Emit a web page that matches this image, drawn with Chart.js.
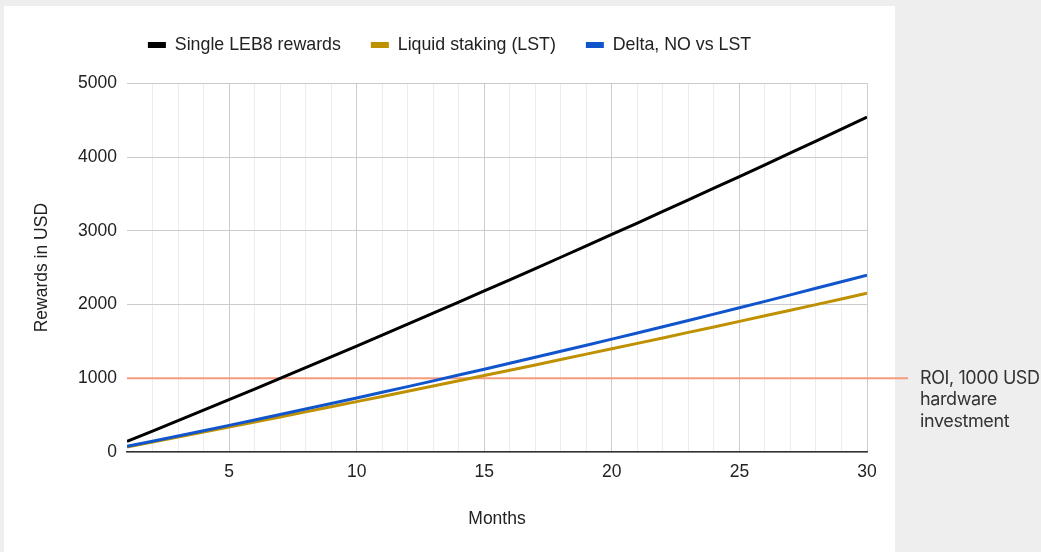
<!DOCTYPE html>
<html>
<head>
<meta charset="utf-8">
<script src="https://cdn.jsdelivr.net/npm/chart.js@4.4.1/dist/chart.umd.min.js"></script>
<style>
  html, body { margin: 0; padding: 0; background: #eeeeee; }
  #c { display: block; }
</style>
</head>
<body>
<canvas id="c" width="1041" height="552"></canvas>
<script>
// ---- data ----
const months = [1,2,3,4,5,6,7,8,9,10,11,12,13,14,15,16,17,18,19,20,21,22,23,24,25,26,27,28,29,30];
const leb8Rewards = [143,284,425,567,710,854,1000,1144,1290,1437,1585,1734,1883,2033,2184,2335,2488,2641,2795,2950,3105,3262,3419,3577,3735,3895,4055,4216,4378,4541];
const lstRewards  = [68,135,202,270,338,406,475,544,613,683,753,824,894,965,1037,1109,1181,1254,1327,1400,1473,1547,1622,1696,1771,1847,1923,1999,2075,2152];
const deltaNoVsLst = [76,146,217,289,361,434,508,582,657,733,810,887,965,1044,1123,1203,1284,1366,1448,1531,1614,1699,1784,1870,1956,2043,2131,2220,2309,2399];
const roiValue = 1000;
const roiLabel = ['ROI, 1000 USD', 'hardware', 'investment'];
const seriesNames = ['Single LEB8 rewards', 'Liquid staking (LST)', 'Delta, NO vs LST'];
const xTitle = 'Months';
const yTitle = 'Rewards in USD';

const toPts = arr => arr.map((v, i) => ({x: months[i], y: v}));

const bgPlugin = {
  id: 'whiteBg',
  beforeDraw(chart) {
    const ctx = chart.ctx;
    ctx.save();
    ctx.fillStyle = '#ffffff';
    ctx.fillRect(4, 6, 891, 546);
    ctx.restore();
  }
};

const roiPlugin = {
  id: 'roiNote',
  afterDatasetsDraw(chart) {
    const ctx = chart.ctx;
    const y = chart.scales.y.getPixelForValue(roiValue);
    const a = chart.chartArea;
    ctx.save();
    ctx.strokeStyle = '#f69c7c';
    ctx.lineWidth = 2;
    ctx.beginPath();
    ctx.moveTo(a.right, y);
    ctx.lineTo(908, y);
    ctx.stroke();
    ctx.fillStyle = '#333333';
    ctx.font = '18px Inter';
    try { ctx.letterSpacing = '-0.4px'; } catch (e) {}
    ctx.textAlign = 'left';
    ctx.textBaseline = 'middle';
    roiLabel.forEach((t, i) => ctx.fillText(t, 920, y + i * 21.7));
    ctx.restore();
  }
};

const tickFont = { family: 'Liberation Sans', size: 17.5 };

new Chart(document.getElementById('c'), {
  type: 'line',
  data: {
    datasets: [
      { label: seriesNames[0], data: toPts(leb8Rewards), borderColor: '#000000', backgroundColor: '#000000', borderWidth: 3, pointRadius: 0, order: 3 },
      { label: seriesNames[1], data: toPts(lstRewards), borderColor: '#bf9000', backgroundColor: '#bf9000', borderWidth: 3, pointRadius: 0, order: 2 },
      { label: seriesNames[2], data: toPts(deltaNoVsLst), borderColor: '#1155cc', backgroundColor: '#1155cc', borderWidth: 3, pointRadius: 0, order: 1 },
      { label: 'ROI', data: months.map(m => ({x: m, y: roiValue})), borderColor: '#f69c7c', backgroundColor: '#f69c7c', borderWidth: 2, pointRadius: 0, order: 4 }
    ]
  },
  options: {
    responsive: false,
    animation: false,
    events: [],
    layout: { padding: { left: 4, top: 6, right: 146, bottom: 0 } },
    plugins: {
      tooltip: { enabled: false },
      legend: {
        position: 'top',
        labels: {
          boxWidth: 18,
          boxHeight: 6,
          padding: 30,
          color: '#222222',
          font: { family: 'Liberation Sans', size: 17.8 },
          filter: item => item.text !== 'ROI',
          sort: (a, b) => a.datasetIndex - b.datasetIndex,
          generateLabels: chart => Chart.defaults.plugins.legend.labels.generateLabels(chart).map(l => Object.assign(l, { lineWidth: 0 }))
        }
      },
      subtitle: {
        display: true,
        text: '',
        weight: 500,
        font: { size: 10, lineHeight: 1.2 },
        padding: { top: 0, bottom: 7.5 }
      }
    },
    scales: {
      x: {
        type: 'linear',
        min: 1,
        max: 30,
        afterFit: s => { s.height = 100; },
        ticks: {
          stepSize: 1,
          autoSkip: false,
          maxRotation: 0,
          padding: 10,
          color: '#222222',
          font: tickFont,
          callback: v => (v % 5 === 0 ? String(v) : '')
        },
        grid: {
          drawTicks: false,
          color: c => (c.tick.value === 1 ? 'rgba(0,0,0,0)' : (c.tick.value % 5 === 0 ? '#cccccc' : '#ececec')),
          lineWidth: 1
        },
        border: { display: true, color: '#333333', width: 1.5 },
        title: { display: true, text: xTitle, color: '#222222', font: tickFont, padding: { top: 0, bottom: 22.5 } }
      },
      y: {
        min: 0,
        max: 5000,
        afterFit: s => { s.width = 123; },
        ticks: { stepSize: 1000, padding: 10, color: '#222222', font: tickFont, callback: v => String(v) },
        grid: { drawTicks: false, color: '#cccccc', lineWidth: 1 },
        border: { display: false },
        title: { display: true, text: yTitle, color: '#222222', font: tickFont, padding: { top: 27.5, bottom: 0 } }
      },
      yRight: {
        position: 'right',
        display: true,
        afterFit: s => { s.width = 28; },
        ticks: { display: false },
        grid: { display: false, drawOnChartArea: false },
        border: { display: false }
      }
    }
  },
  plugins: [bgPlugin, roiPlugin]
});
</script>
</body>
</html>
